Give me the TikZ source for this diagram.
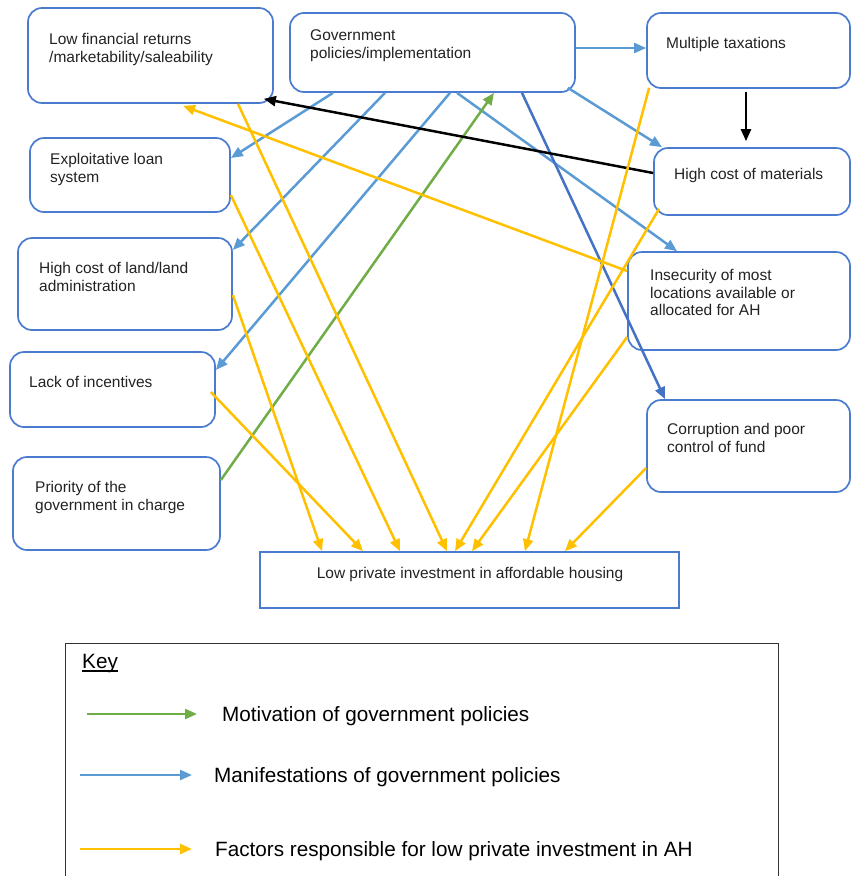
\documentclass[tikz,border=0pt]{standalone}
\usepackage{fontspec}
\setmainfont{Liberation Sans}
\usetikzlibrary{arrows.meta}

\definecolor{boxblue}{HTML}{4A7BCF}
\definecolor{manblue}{HTML}{5B9BD5}
\definecolor{darkblue}{HTML}{4472C4}
\definecolor{factor}{HTML}{FFC000}
\definecolor{motive}{HTML}{70AD47}
\definecolor{textgray}{HTML}{222222}

\newcommand{\boxfont}{\fontsize{15.5}{17.8}\selectfont}
\newcommand{\keyfont}{\fontsize{20.7}{24}\selectfont}

\begin{document}
\begin{tikzpicture}[x=1pt,y=-1pt,
  box/.style={draw=boxblue, line width=1.7pt, rounded corners=14pt, inner sep=0pt},
  flatbox/.style={draw=boxblue, line width=1.7pt, inner sep=0pt},
  lbl/.style={inner sep=0pt, anchor=north west, align=left, font=\boxfont, text=textgray},
  keytxt/.style={inner sep=0pt, font=\keyfont, text=black},
  keybox/.style={draw=black!80, line width=1.3pt, inner sep=0pt},
  tip/.style={-{Triangle[length=12pt,width=10pt]}},
  manarrow/.style={tip, draw=manblue, fill=manblue, line width=2.5pt},
  darkarrow/.style={tip, draw=darkblue, fill=darkblue, line width=2.5pt},
  motarrow/.style={tip, draw=motive, fill=motive, line width=2.5pt},
  factarrow/.style={tip, draw=factor, fill=factor, line width=2.5pt},
  linkarrow/.style={tip, draw=black, fill=black, line width=2.5pt}]

\useasboundingbox (0,0) rectangle (851,876);
\clip (0,0) rectangle (851,876);

% ---- boxes ----
\node[box, minimum width=245pt, minimum height=95pt] (lfr)    at (150.5,55.5) {};
\node[box, minimum width=285pt, minimum height=79pt] (gov)    at (432.5,52.5) {};
\node[box, minimum width=203pt, minimum height=75pt] (tax)    at (748.5,50.5) {};
\node[box, minimum width=200pt, minimum height=74pt] (loan)   at (130,175) {};
\node[box, minimum width=196pt, minimum height=67pt] (mat)    at (752,181.5) {};
\node[box, minimum width=214pt, minimum height=92pt] (land)   at (125,284) {};
\node[box, minimum width=222pt, minimum height=98pt] (insec)  at (739,301) {};
\node[box, minimum width=205pt, minimum height=75pt] (incent) at (112.5,389.5) {};
\node[box, minimum width=203pt, minimum height=92pt] (corr)   at (748.5,446) {};
\node[box, minimum width=207pt, minimum height=93pt] (prio)   at (116.5,503.5) {};
\node[flatbox, minimum width=419pt, minimum height=56pt] (lpi) at (469.5,580) {};

% ---- box texts ----
\node[lbl] (lfr-t)    at (49,32.8)   {Low financial returns\\/marketability/saleability};
\node[lbl] (gov-t)    at (310,29.8)  {Government\\policies/implementation};
\node[lbl] (tax-t)    at (666,36.8)  {Multiple taxations};
\node[lbl] (loan-t)   at (50,152.8)  {Exploitative loan\\system};
\node[lbl] (mat-t)    at (674,167.8) {High cost of materials};
\node[lbl] (land-t)   at (39,261.8)  {High cost of land/land\\administration};
\node[lbl] (insec-t)  at (650,268.8) {Insecurity of most\\locations available or\\allocated for AH};
\node[lbl] (incent-t) at (29,375.8)  {Lack of incentives};
\node[lbl] (corr-t)   at (667,422.8) {Corruption and poor\\control of fund};
\node[lbl] (prio-t)   at (35,480.8)  {Priority of the\\government in charge};
\node[inner sep=0pt, anchor=base, font=\boxfont, text=textgray] (lpi-t) at (470,578)
  {Low private investment in affordable housing};

% ---- manifestations of government policies ----
\draw[manarrow] ([yshift=4.5pt]gov.east) -- ([yshift=2.5pt]tax.west);
\draw[manarrow] ([xshift=-8pt,yshift=5pt]gov.south east) -- ([xshift=-90pt]mat.north);
\draw[manarrow] ([xshift=24.5pt]gov.south) -- ([xshift=-62pt]insec.north);
\draw[manarrow] ([xshift=-99.5pt]gov.south) -- ([yshift=17pt]loan.east);
\draw[manarrow] ([xshift=-47.5pt]gov.south) -- ([yshift=34pt]land.east);
\draw[manarrow] ([xshift=17.5pt]gov.south) -- ([yshift=19.5pt]incent.east);
\draw[darkarrow] ([xshift=89.5pt]gov.south) -- ([xshift=-83.5pt]corr.north);

% ---- motivation ----
\draw[motarrow] ([yshift=23.5pt]prio.east) -- ([xshift=61.5pt]gov.south);

% ---- links between factors ----
\draw[linkarrow, shorten <=3pt, shorten >=6pt] ([xshift=-2.5pt]tax.south) -- ([xshift=-6pt]mat.north);
\draw[linkarrow] ([yshift=8.5pt]mat.west) -- ([xshift=-10pt,yshift=5pt]lfr.south east);

% ---- factors leading to low private investment ----
\draw[factarrow] ([xshift=87.5pt]lfr.south) -- ([xshift=-22.5pt]lpi.north);
\draw[factarrow] ([yshift=-20pt]loan.east) -- ([xshift=-69.5pt]lpi.north);
\draw[factarrow] ([yshift=-11pt]land.east) -- ([xshift=-147.5pt]lpi.north);
\draw[factarrow] ([xshift=-5pt,yshift=-2.5pt]incent.east) -- ([xshift=-106.5pt]lpi.north);
\draw[factarrow] ([xshift=3pt,yshift=1pt]tax.south west) -- ([xshift=55.5pt]lpi.north);
\draw[factarrow] ([xshift=6pt,yshift=7pt]mat.south west) -- ([xshift=-14.5pt]lpi.north);
\draw[factarrow] ([yshift=-36pt]insec.west) -- ([xshift=2.5pt]lpi.north);
\draw[factarrow] ([yshift=-22pt]corr.west) -- ([xshift=95.5pt]lpi.north);
\draw[factarrow] ([yshift=30pt]insec.west) -- ([xshift=32.5pt,yshift=-2pt]lfr.south);

% ---- key ----
\node[keybox, anchor=north west, minimum width=713pt, minimum height=260pt] (key) at (65,643) {};
\node[keytxt, anchor=base west] (keyhead) at (82,668) {Key};
\draw[line width=1.1pt] ([yshift=-3pt]keyhead.base west) -- ([yshift=-3pt]keyhead.base east);

\coordinate (gA) at (87,714);  \coordinate (gB) at (197,714);
\coordinate (bA) at (80,775);  \coordinate (bB) at (192,775);
\coordinate (yA) at (80,849);  \coordinate (yB) at (192,849);
\draw[motarrow]  (gA) -- (gB);
\draw[manarrow]  (bA) -- (bB);
\draw[factarrow] (yA) -- (yB);
\node[keytxt, anchor=base west] (gT) at (222,721.5) {Motivation of government policies};
\node[keytxt, anchor=base west] (bT) at (214,782.5) {Manifestations of government policies};
\node[keytxt, anchor=base west] (yT) at (215,856.5) {Factors responsible for low private investment in AH};

\end{tikzpicture}
\end{document}
